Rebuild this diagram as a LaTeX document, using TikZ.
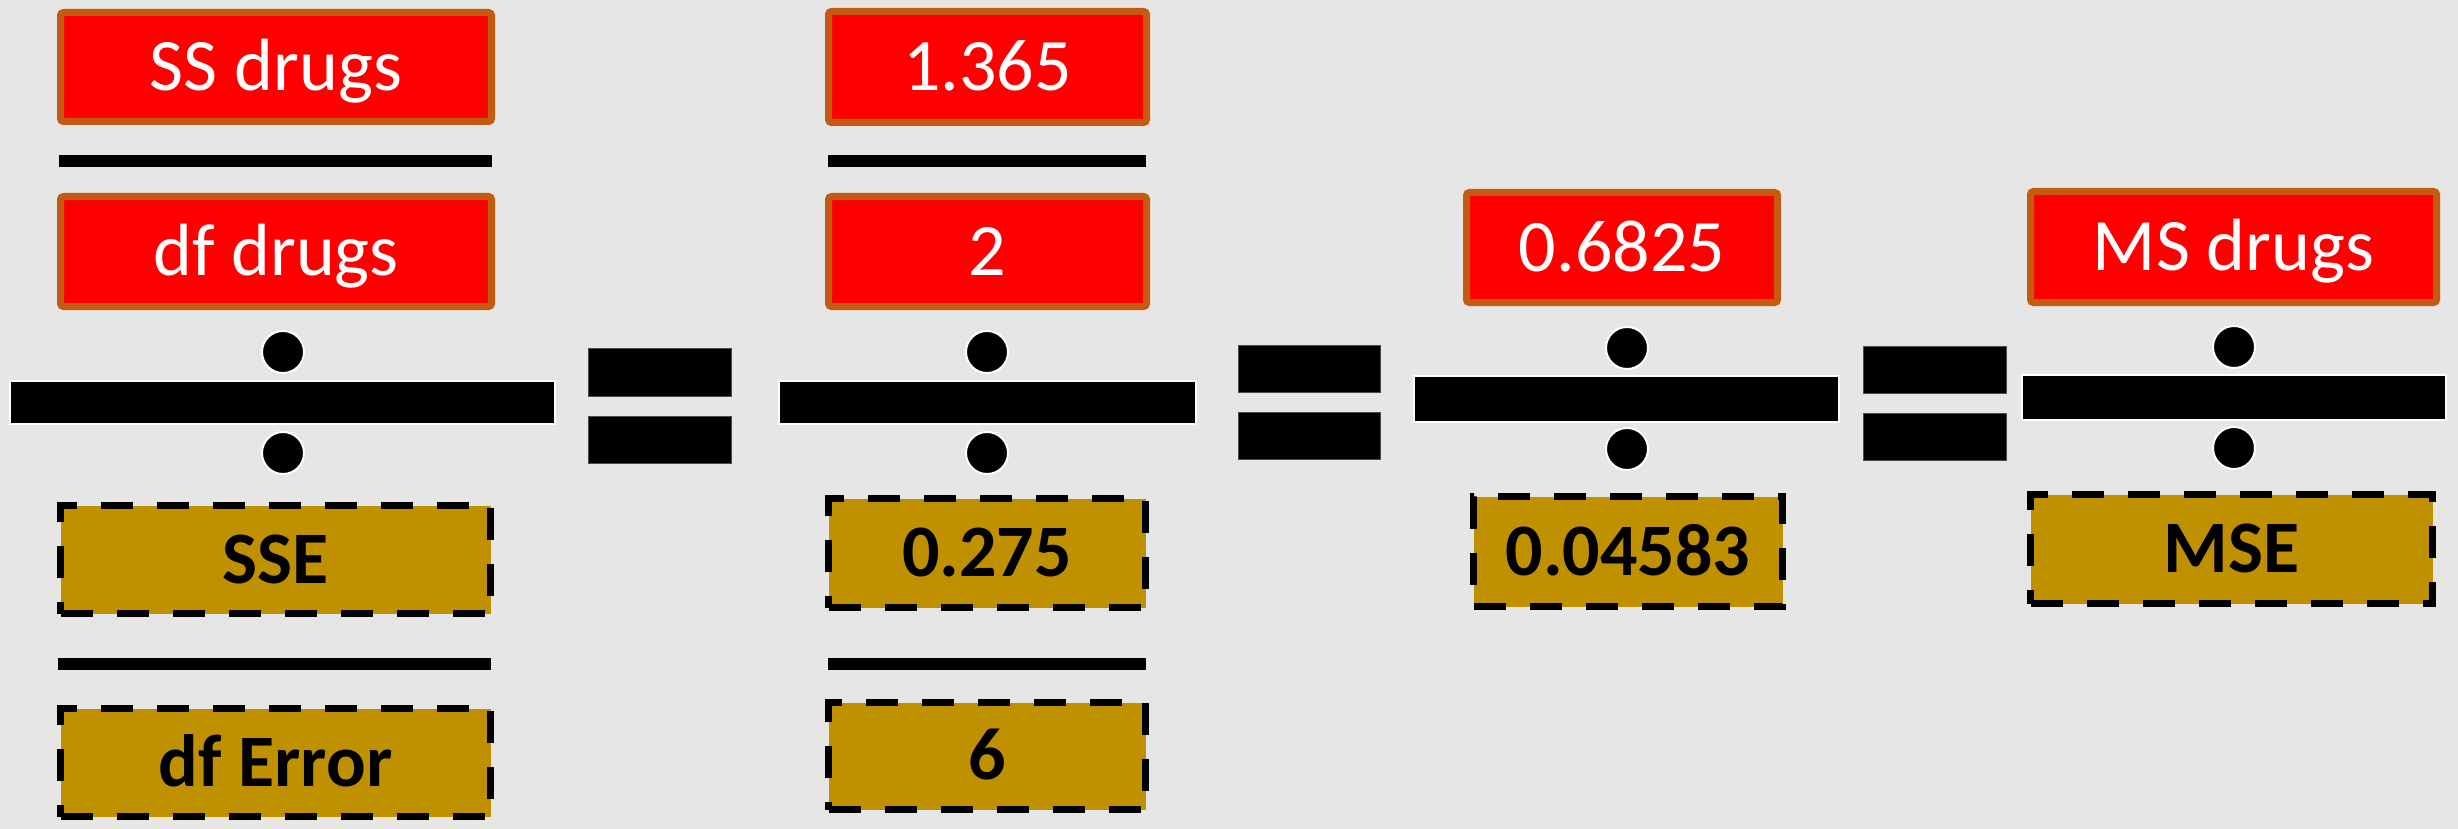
\documentclass[tikz,border=0pt]{standalone}
\usepackage{fontspec}
\setmainfont{Carlito}
\definecolor{bgc}{HTML}{E7E6E6}
\definecolor{redfill}{HTML}{FF0000}
\definecolor{orangeborder}{HTML}{C55A11}
\definecolor{goldfill}{HTML}{BF9000}
\begin{document}
\begin{tikzpicture}[x=1pt,y=-1pt,
  lbl/.style={font=\fontsize{74}{88}\selectfont, text height=47pt, text depth=0pt, inner sep=0pt},
  redbox/.style={lbl, rectangle, fill=redfill, draw=orangeborder, line width=7pt, rounded corners=3pt, text=white},
  goldbox/.style={lbl, font=\fontsize{74}{88}\selectfont\bfseries, rectangle, fill=goldfill, draw=black, line width=7pt, dash pattern=on 32pt off 24pt, text=black},
  blackdot/.style={circle, fill=black, draw=white, line width=2pt, minimum size=42pt, inner sep=0pt},
  bigbar/.style={rectangle, fill=black, draw=white, line width=2pt, inner sep=0pt},
  fracline/.style={rectangle, fill=black, inner sep=0pt},
  eqbar/.style={rectangle, fill=black, draw=black!70, line width=0.8pt, inner sep=0pt}]
\fill[bgc] (0,0) rectangle (2458,829);
\useasboundingbox (0,0) rectangle (2458,829);
% column 1
\node[redbox, minimum width=431pt, minimum height=109pt] (ss) at (276,67) {SS drugs};
\node[fracline, minimum width=433pt, minimum height=12pt] (l1a) at (275.5,161) {};
\node[redbox, minimum width=431pt, minimum height=110pt] (dfd) at (276,251.5) {df drugs};
\node[blackdot] (d1a) at (283,352) {};
\node[bigbar, minimum width=545pt, minimum height=43pt] (b1) at (282.5,402.5) {};
\node[blackdot] (d1b) at (283,453) {};
\node[goldbox, minimum width=430pt, minimum height=108pt] (sse) at (275.5,559.5) {SSE};
\node[fracline, minimum width=433pt, minimum height=12pt] (l1b) at (274.5,664) {};
\node[goldbox, minimum width=430pt, minimum height=108pt] (dfe) at (275.5,762.5) {df Error};
% equals 1
\node[eqbar, minimum width=143pt, minimum height=48pt] (e1a) at (659.5,372) {};
\node[eqbar, minimum width=143pt, minimum height=47pt] (e1b) at (659.5,439.5) {};
% column 2
\node[redbox, minimum width=318pt, minimum height=111pt] (n1365) at (987.5,67) {1.365};
\node[fracline, minimum width=318pt, minimum height=12pt] (l2a) at (987,161) {};
\node[redbox, minimum width=318pt, minimum height=110pt] (n2) at (987.5,251.5) {2};
\node[blackdot] (d2a) at (987,352) {};
\node[bigbar, minimum width=417pt, minimum height=43pt] (b2) at (987.5,402.5) {};
\node[blackdot] (d2b) at (987,453) {};
\node[goldbox, minimum width=317pt, minimum height=109pt] (n0275) at (987,553) {0.275};
\node[fracline, minimum width=318pt, minimum height=12pt] (l2b) at (987,664) {};
\node[goldbox, minimum width=317pt, minimum height=107pt] (n6) at (987,756) {6};
% equals 2
\node[eqbar, minimum width=142pt, minimum height=47pt] (e2a) at (1309,368.5) {};
\node[eqbar, minimum width=142pt, minimum height=47pt] (e2b) at (1309,435.5) {};
% column 3
\node[redbox, minimum width=311pt, minimum height=110pt] (n06825) at (1622,247.5) {0.6825};
\node[blackdot] (d3a) at (1627,348) {};
\node[bigbar, minimum width=425pt, minimum height=46pt] (b3) at (1626.5,399) {};
\node[blackdot] (d3b) at (1627,449) {};
\node[goldbox, minimum width=309pt, minimum height=110pt] (n04583) at (1628,551.5) {0.04583};
% equals 3
\node[eqbar, minimum width=143pt, minimum height=47pt] (e3a) at (1934.5,369.5) {};
\node[eqbar, minimum width=143pt, minimum height=47pt] (e3b) at (1934.5,436.5) {};
% column 4
\node[redbox, minimum width=406pt, minimum height=111pt] (msd) at (2233.5,247) {MS drugs};
\node[blackdot] (d4a) at (2234,347) {};
\node[bigbar, minimum width=424pt, minimum height=45pt] (b4) at (2234,397.5) {};
\node[blackdot] (d4b) at (2234,448) {};
\node[goldbox, minimum width=402pt, minimum height=109pt] (mse) at (2231.5,549) {MSE};
\end{tikzpicture}
\end{document}
